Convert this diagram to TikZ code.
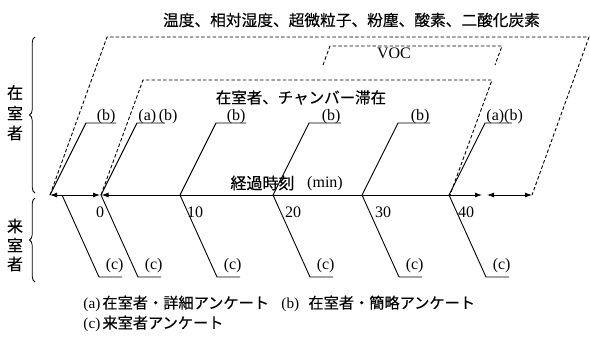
\documentclass[tikz,border=0pt]{standalone}
\usepackage{fontspec}
\setmainfont{Liberation Serif}
\newfontfamily\jp[FakeBold=0.3]{Noto Sans CJK JP}
\usetikzlibrary{arrows.meta,decorations.pathreplacing,calc}
\begin{document}
\begin{tikzpicture}[x=1pt,y=-1pt,line width=0.9pt,
  dsh/.style={dash pattern=on 3.5pt off 2.2pt},
  lat/.style={inner sep=0pt,anchor=base,font=\fontsize{16}{18}\selectfont},
  jtx/.style={inner sep=0pt,font=\fontsize{15.5}{18}\selectfont\jp},
  leg/.style={inner sep=0pt,anchor=base west,font=\fontsize{15.2}{18}\selectfont},
  brc/.style={decorate,decoration={brace,amplitude=5.5pt},line width=0.8pt},
  dbl/.style={{Latex[length=7pt,width=5pt]}-{Latex[length=7pt,width=5pt]}}]
\useasboundingbox (0,0) rectangle (590,338);

% title and group labels
\node[jtx,font=\fontsize{15.7}{18}\selectfont\jp] (title) at (351.5,20) {温度、相対湿度、超微粒子、粉塵、酸素、二酸化炭素};
\node[jtx] (stay) at (301,97.5) {在室者、チャンバー滞在};
\node[lat] (voc) at (394,58) {VOC};

% side labels
\node[jtx,font=\fontsize{16}{18}\selectfont\jp] (s1) at (15,92.5) {在};
\node[jtx,font=\fontsize{16}{18}\selectfont\jp] (s2) at (15,113) {室};
\node[jtx,font=\fontsize{16}{18}\selectfont\jp] (s3) at (15,133) {者};
\node[jtx,font=\fontsize{16}{18}\selectfont\jp] (r1) at (15,226) {来};
\node[jtx,font=\fontsize{16}{18}\selectfont\jp] (r2) at (15,245) {室};
\node[jtx,font=\fontsize{16}{18}\selectfont\jp] (r3) at (15,264) {者};
\coordinate (bu1) at (35,193); \coordinate (bu2) at (35,37);
\coordinate (bl1) at (35,282); \coordinate (bl2) at (35,198);
\draw[brc] (bu1) -- (bu2);
\draw[brc] (bl1) -- (bl2);

% dashed frames
\coordinate (o1) at (50,195); \coordinate (o2) at (107,37);
\coordinate (o3) at (589,37); \coordinate (o4) at (532,195);
\draw[dsh] (o1) -- (o2) -- (o3) -- (o4);
\coordinate (i1) at (101,195); \coordinate (i2) at (143,80);
\coordinate (i3) at (492,80); \coordinate (i4) at (450,195);
\draw[dsh] (i1) -- (i2) -- (i3) -- (i4);
\coordinate (v1) at (323,65); \coordinate (v2) at (330,46);
\coordinate (v3) at (502,46); \coordinate (v4) at (495,65);
\draw[dsh] (v1) -- (v2) -- (v3) -- (v4);

% axis
\coordinate (aL) at (50,195); \coordinate (aL2) at (100,195);
\coordinate (a0) at (101.5,195); \coordinate (aR) at (482,195);
\coordinate (e1) at (487,195); \coordinate (e2) at (532,195);
\draw[dbl] (aL) -- (aL2);
\draw[dbl] (a0) -- (aR);
\draw[dbl] (e1) -- (e2);
\node[jtx,font=\fontsize{16}{18}\selectfont\jp] (axj) at (262.5,183) {経過時刻};
\node[lat] (axm) at (325,187) {(min)};

% tick labels
\node[lat] (t0) at (100,217.5) {0};
\node[lat] (t10) at (195,217.5) {10};
\node[lat] (t20) at (293,217.5) {20};
\node[lat] (t30) at (383,217.5) {30};
\node[lat] (t40) at (466,217.5) {40};

% upper leaders (b)
\foreach \n/\x/\l in {u0/50/66, u1/101/64, u2/180/66, u3/273/68, u4/362/68, u5/449/63}{
  \coordinate (\n a) at (\x,195);
  \coordinate (\n b) at (\x+36,123);
  \coordinate (\n c) at (\x+\l,123);
  \draw (\n a) -- (\n b) -- (\n c);
}
\node[lat,anchor=base east] (lb0) at ($(u0c)+(0,-2.5)$) {(b)};
\node[lat,anchor=base east] (lb2) at ($(u2c)+(0,-2.5)$) {(b)};
\node[lat,anchor=base east] (lb3) at ($(u3c)+(0,-2.5)$) {(b)};
\node[lat,anchor=base east] (lb4) at ($(u4c)+(0,-2.5)$) {(b)};
\node[lat,anchor=base west] (la1) at ($(u1b)+(1,-2.5)$) {(a)\,(b)};
\node[lat,anchor=base west] (la5) at ($(u5b)+(1,-2.5)$) {(a)(b)};

% lower leaders (c)
\foreach \n/\x in {d0/62, d1/101, d2/180, d3/273, d4/362, d5/449}{
  \coordinate (\n a) at (\x,195);
  \coordinate (\n b) at (\x+37,277);
  \coordinate (\n c) at (\x+60,277);
  \draw (\n a) -- (\n b) -- (\n c);
}
\foreach \n in {d0,d1,d2,d3,d4,d5}{
  \node[lat,anchor=base east] (lc\n) at ($(\n c)+(2,-7.5)$) {(c)};
}

% legend
\node[leg] (la) at (83,308.5) {(a)};
\node[leg,font=\fontsize{15.2}{18}\selectfont\jp] (lja) at (102,308.5) {在室者・詳細アンケート};
\node[leg] (lbb) at (281,308.5) {(b)};
\node[leg,font=\fontsize{15.2}{18}\selectfont\jp] (ljb) at (308,308.5) {在室者・簡略アンケート};
\node[leg] (lcc) at (83,328.5) {(c)};
\node[leg,font=\fontsize{15.2}{18}\selectfont\jp] (ljc) at (102,328.5) {来室者アンケート};
\end{tikzpicture}
\end{document}
